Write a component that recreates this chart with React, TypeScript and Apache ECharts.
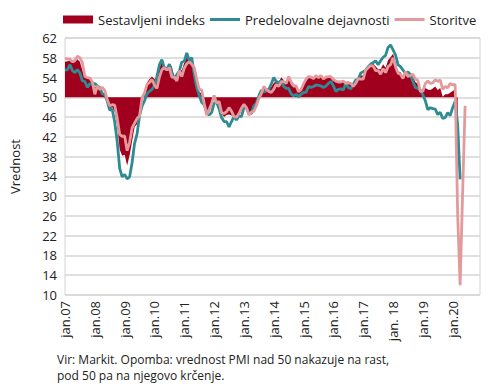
import React, { useEffect, useRef } from "react";
import * as echarts from "echarts";

const yearLabels = ["jan.07","jan.08","jan.09","jan.10","jan.11","jan.12","jan.13","jan.14","jan.15","jan.16","jan.17","jan. 18","jan.19","jan.20"];
const yTicks = { min: 10, max: 62, interval: 4 };

// Sestavljeni indeks (composite), monthly from jan 2007
const composite = [
  57.2, 57.3, 57.4, 57.0, 57.1, 57.7, 57.2, 55.4, 54.1, 53.9, 54.1, 53.3,
  52.0, 52.3, 51.6, 51.2, 50.3, 49.2, 47.8, 48.0, 47.1, 44.3, 39.5, 38.2,
  38.4, 36.2, 38.3, 41.1, 44.0, 44.6, 46.3, 50.0, 51.1, 53.0, 53.7, 54.2,
  53.7, 53.4, 55.9, 57.3, 56.4, 56.0, 56.7, 56.2, 53.8, 53.8, 55.5, 55.5,
  57.0, 58.2, 57.6, 57.8, 55.8, 53.3, 51.1, 50.7, 49.1, 47.1, 47.0, 48.3,
  50.4, 49.3, 49.1, 46.7, 46.0, 46.4, 46.5, 46.3, 46.1, 45.7, 46.5, 47.2,
  48.6, 47.9, 46.5, 46.9, 47.7, 48.7, 50.5, 51.5, 52.2, 51.9, 51.7, 52.1,
  52.9, 53.3, 53.1, 54.0, 53.5, 52.8, 53.8, 52.5, 52.0, 52.1, 51.1, 51.4,
  52.6, 53.3, 54.0, 53.9, 53.6, 54.2, 53.9, 54.3, 53.6, 53.9, 54.2, 54.3,
  53.6, 53.0, 53.1, 53.0, 53.1, 53.1, 53.2, 52.9, 52.6, 53.3, 53.9, 54.4,
  54.4, 56.0, 56.4, 56.8, 56.8, 56.3, 55.7, 55.7, 56.7, 56.0, 57.5, 58.1,
  58.8, 57.1, 55.2, 55.1, 54.1, 54.9, 54.3, 54.5, 54.1, 53.1, 52.7, 51.1,
  51.0, 51.9, 51.6, 51.5, 51.8, 52.2, 51.5, 51.9, 50.1, 50.6, 50.6, 50.9,
  51.3, 51.6, 29.7
];

// Predelovalne dejavnosti (manufacturing)
const manufacturing = [
  55.5, 55.6, 56.6, 55.4, 55.0, 55.6, 54.9, 53.3, 53.2, 52.0, 52.8, 52.6,
  52.8, 52.3, 52.0, 50.7, 50.6, 49.2, 47.4, 47.6, 45.0, 41.1, 35.6, 33.9,
  34.4, 33.5, 33.9, 36.8, 40.7, 42.6, 46.3, 48.2, 49.3, 50.7, 51.2, 51.6,
  52.4, 54.2, 56.6, 57.6, 55.8, 55.6, 56.7, 55.1, 53.7, 54.6, 55.3, 57.1,
  57.3, 59.0, 57.5, 58.0, 54.6, 52.0, 50.4, 49.0, 48.5, 47.1, 46.4, 46.9,
  48.8, 49.0, 47.7, 45.9, 45.1, 45.1, 44.0, 45.1, 46.1, 45.4, 46.2, 46.1,
  47.9, 47.9, 46.8, 46.7, 48.3, 48.8, 50.3, 51.4, 51.1, 51.3, 51.6, 52.7,
  54.0, 53.2, 53.0, 53.4, 52.2, 51.8, 51.8, 50.7, 50.3, 50.6, 50.1, 50.6,
  51.0, 51.0, 52.2, 52.0, 52.2, 52.5, 52.4, 52.3, 52.0, 52.3, 52.8, 53.2,
  52.3, 51.2, 51.6, 51.7, 51.5, 52.8, 52.0, 51.7, 52.6, 53.5, 53.7, 54.9,
  55.2, 55.4, 56.2, 56.7, 57.0, 57.4, 56.6, 57.4, 58.1, 58.5, 60.1, 60.6,
  59.6, 58.6, 56.6, 56.2, 55.5, 54.9, 55.1, 54.6, 53.2, 52.0, 51.8, 51.4,
  50.5, 49.3, 47.5, 47.9, 47.7, 47.6, 46.5, 47.0, 45.7, 45.9, 46.9, 46.3,
  47.9, 49.2, 44.5, 33.4
];

// Storitve (services)
const services = [
  57.9, 57.8, 57.7, 57.2, 57.5, 58.3, 58.0, 57.0, 54.2, 54.0, 53.9, 53.1,
  50.6, 52.3, 51.6, 52.0, 51.4, 49.5, 48.3, 48.5, 48.4, 45.8, 42.5, 42.1,
  42.2, 39.2, 40.9, 43.8, 44.8, 45.7, 46.2, 49.9, 50.9, 52.6, 53.0, 53.6,
  52.5, 51.8, 54.1, 55.6, 56.0, 55.5, 56.0, 54.1, 54.1, 53.3, 55.4, 54.2,
  55.9, 56.8, 57.2, 56.7, 56.0, 53.7, 51.6, 51.5, 48.8, 46.4, 47.5, 48.8,
  50.4, 48.8, 49.2, 46.9, 46.7, 47.1, 47.9, 47.2, 46.1, 46.0, 46.7, 47.8,
  48.6, 47.9, 46.4, 47.0, 47.2, 48.3, 49.8, 50.7, 52.2, 51.6, 51.2, 51.0,
  51.6, 52.6, 52.2, 53.1, 53.2, 52.8, 54.2, 53.1, 52.4, 52.3, 51.1, 51.6,
  52.7, 53.7, 54.2, 54.1, 53.8, 54.4, 54.0, 54.4, 53.7, 54.1, 54.2, 54.2,
  53.6, 53.3, 53.1, 53.1, 53.3, 52.8, 52.9, 52.8, 52.2, 52.8, 53.8, 53.7,
  53.7, 55.5, 56.0, 56.4, 56.3, 55.4, 55.4, 54.7, 55.8, 55.0, 56.2, 56.6,
  58.0, 56.2, 54.9, 54.7, 53.8, 55.2, 54.2, 54.4, 54.7, 53.7, 53.4, 51.2,
  51.2, 52.8, 53.3, 52.8, 52.9, 53.6, 53.2, 53.5, 51.6, 52.2, 51.9, 52.8,
  52.5, 52.6, 26.4, 12.0, 30.5, 48.3
];

const seriesNames = ["Sestavljeni indeks", "Predelovalne dejavnosti", "Storitve"];
const footnote = [
  "Vir: Markit. Opomba: vrednost PMI nad 50 nakazuje na rast,",
  "pod 50 pa na njegovo krčenje."
];

const months: string[] = [];
for (let y = 0; y < yearLabels.length; y++) {
  for (let m = 1; m <= 12; m++) months.push(yearLabels[y] + "-" + m);
}

const FONT = "'Open Sans', sans-serif";
const RED = "#a0001e";
const TEAL = "#2e8b93";
const PINK = "#e39a9c";
const LINE_ICON = "path://M0,0 L30,0 L30,3 L0,3 Z";

export default function App() {
  const ref = useRef<HTMLDivElement>(null);
  useEffect(() => {
    if (!ref.current) return;
    const chart = echarts.init(ref.current, undefined, { renderer: "svg" });
    chart.setOption({
      animation: false,
      textStyle: { fontFamily: FONT },
      legend: {
        top: 8,
        left: 58,
        itemGap: 5,
        itemWidth: 30,
        itemHeight: 8,
        textStyle: { fontSize: 13, color: "#222", fontFamily: FONT },
        data: [
          { name: seriesNames[0], icon: "rect", itemStyle: { color: RED } },
          { name: seriesNames[1], icon: LINE_ICON, itemStyle: { color: TEAL } },
          { name: seriesNames[2], icon: LINE_ICON, itemStyle: { color: PINK } }
        ]
      },
      grid: {
        left: 63,
        right: 10,
        top: 38,
        bottom: 90,
        show: true,
        borderColor: "#d4d4d4",
        borderWidth: 1
      },
      xAxis: {
        type: "category",
        data: months,
        boundaryGap: false,
        axisLine: { show: false },
        axisTick: { show: false },
        splitLine: { show: false },
        axisLabel: {
          interval: (i: number) => i % 12 === 0,
          formatter: (v: string, i: number) => yearLabels[Math.floor(i / 12)],
          rotate: 90,
          fontSize: 13,
          color: "#222",
          margin: 6,
          fontFamily: FONT
        }
      },
      yAxis: {
        type: "value",
        min: yTicks.min,
        max: yTicks.max,
        interval: yTicks.interval,
        name: "Vrednost",
        nameLocation: "middle",
        nameRotate: 90,
        nameGap: 44,
        nameTextStyle: { fontSize: 13, color: "#222", fontFamily: FONT },
        axisLine: { show: false },
        axisTick: { show: false },
        axisLabel: { fontSize: 13, color: "#222", margin: 8, fontFamily: FONT },
        splitLine: { lineStyle: { color: "#d4d4d4", width: 1.5 } }
      },
      series: [
        {
          name: seriesNames[0],
          type: "line",
          data: composite,
          symbol: "none",
          lineStyle: { width: 0, color: RED },
          itemStyle: { color: RED },
          areaStyle: { color: RED, opacity: 1, origin: 50 },
          z: 1
        },
        {
          name: seriesNames[1],
          type: "line",
          data: manufacturing,
          symbol: "none",
          lineStyle: { width: 2.8, color: TEAL },
          itemStyle: { color: TEAL },
          z: 2
        },
        {
          name: seriesNames[2],
          type: "line",
          data: services,
          symbol: "none",
          lineStyle: { width: 2.8, color: PINK },
          itemStyle: { color: PINK },
          z: 3
        }
      ],
      graphic: [
        {
          type: "text",
          left: 57,
          top: 353,
          style: { text: footnote[0], fontSize: 12, fill: "#222", fontFamily: FONT }
        },
        {
          type: "text",
          left: 57,
          top: 369,
          style: { text: footnote[1], fontSize: 12, fill: "#222", fontFamily: FONT }
        }
      ]
    });
    return () => chart.dispose();
  }, []);
  return <div ref={ref} style={{ width: 490, height: 385, position: "absolute", left: 0, top: 0 }} />;
}
